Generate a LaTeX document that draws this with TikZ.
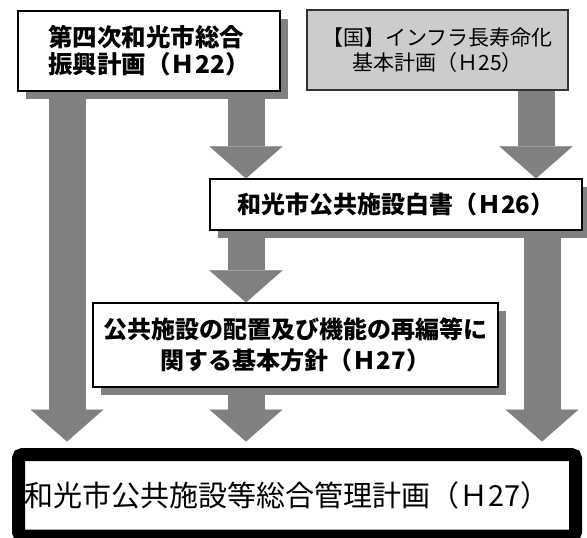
\documentclass[tikz,border=0pt]{standalone}
\usepackage{fontspec}
\usepackage{tikz}
\usetikzlibrary{arrows.meta,shadows}
\newfontfamily\jp{Noto Sans CJK JP}
\definecolor{wk_grey}{RGB}{128, 128, 128}
\definecolor{wk_lgrey}{RGB}{204, 204, 204}
\tikzstyle{plan}=[rectangle,fill=white,draw=black,line width=1.2pt,inner sep=0pt,
  drop shadow={shadow xshift=8pt,shadow yshift=-8pt,fill=wk_grey,opacity=1}]
\tikzstyle{nat}=[rectangle,fill=wk_lgrey,draw=black!80,line width=1.2pt,inner sep=0pt]
\tikzstyle{mgmt}=[rectangle,rounded corners=4pt,fill=white,draw=black,
  line width=13pt,inner sep=0pt]
\tikzstyle{flow}=[color=wk_grey,line width=37pt,
  -{Triangle[width=73pt,length=32pt,line width=0.1pt]}]
\tikzstyle{none}=[inner sep=0pt]

\begin{document}
\begin{tikzpicture}[x=1pt,y=-1pt]
            \useasboundingbox (0, 0) rectangle (587, 538);
            \node [style=none] (5) at (67, 0) {};
            \node [style=none] (6) at (246, 0) {};
            \node [style=none] (7) at (536, 0) {};
            \node [style=none] (8) at (542, 0) {};
            \node [style=plan, minimum width=262pt, minimum height=80pt, align=left,
              font={\jp\bfseries\fontsize{24.5}{27}\selectfont}] (0) at (149, 51) {第四次和光市総合\\振興計画（Ｈ22）};
            \node [style=nat, minimum width=261pt, minimum height=80pt, align=center,
              font={\jp\fontsize{21}{25}\selectfont}] (1) at (437.5, 50) {【国】インフラ長寿命化\\基本計画（Ｈ25）};
            \node [style=plan, minimum width=372pt, minimum height=51pt,
              font={\jp\bfseries\fontsize{24}{28}\selectfont}] (2) at (396, 204.5) {和光市公共施設白書（Ｈ26）};
            \node [style=plan, minimum width=405pt, minimum height=84pt, align=center,
              font={\jp\bfseries\fontsize{24}{31}\selectfont}] (3) at (295.5, 345) {公共施設の配置及び機能の再編等に\\関する基本方針（Ｈ27）};
            \node [style=mgmt, minimum width=557pt, minimum height=81.5pt, text width=545pt, align=left,
              font={\jp\fontsize{29}{33}\selectfont}] (4) at (297, 495.25) {和光市公共施設等総合管理計画（Ｈ27）};
            \draw [style=flow, shorten >=6.5pt] (0.south -| 5.center) to (4.north -| 5.center);
            \draw [style=flow] (0.south -| 6.center) to (2.north -| 6.center);
            \draw [style=flow] (1.south -| 7.center) to (2.north -| 7.center);
            \draw [style=flow] (2.south -| 6.center) to (3.north -| 6.center);
            \draw [style=flow, shorten >=6.5pt] (2.south -| 8.center) to (4.north -| 8.center);
            \draw [style=flow, shorten >=6.5pt] (3.south -| 6.center) to (4.north -| 6.center);
    \end{tikzpicture}
\end{document}
